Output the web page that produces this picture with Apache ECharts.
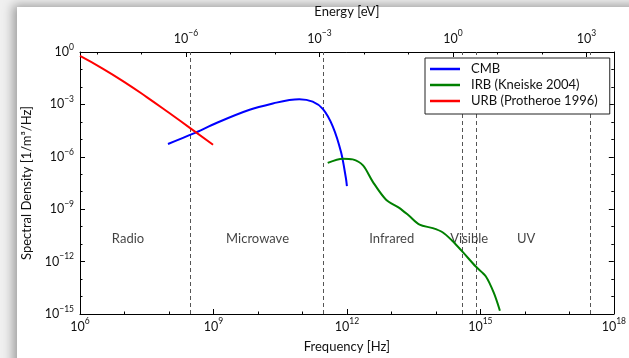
<!DOCTYPE html>
<html><head><meta charset="utf-8">
<script src="https://cdn.jsdelivr.net/npm/echarts@6/dist/echarts.min.js"></script>
<style>
html,body{margin:0;padding:0;width:629px;height:358px;overflow:hidden;background:#f0f0f0;}
#card{position:absolute;left:17px;top:7px;width:700px;height:420px;background:#fff;box-shadow:-4px -2px 10px rgba(0,0,0,0.35);}
#chart{position:absolute;left:0;top:0;width:629px;height:358px;}
</style></head><body>
<div id="card"></div><div id="chart"></div>
<script>
// ---- data ----
const H_EV = 4.135667696e-15;          // Planck constant in eV*s (frequency -> energy)
const freqMin = 1e6, freqMax = 1e18;
const densMin = 1e-15, densMax = 1;
const freqMinorExps = [7, 8, 10, 11, 13, 14, 16, 17];
const densMinorExps = [-1, -2, -4, -5, -7, -8, -10, -11, -13, -14];
const energyTickExps = [-6, -3, 0, 3];
const energyMinorExps = [-8, -7, -5, -4, -2, -1, 1, 2];

const cmbFreq = [9.5e7, 3.5e8, 1.2e9, 6.5e9, 2.6e10, 5.1e10, 8.5e10, 1.7e11, 2.9e11, 4.8e11, 7.4e11, 9.5e11, 1.0e12];
const cmbDens = [5.4e-6, 2.1e-5, 8.9e-5, 4.9e-4, 1.26e-3, 1.78e-3, 2.0e-3, 1.45e-3, 5.4e-4, 5.6e-5, 1.8e-6, 5.9e-8, 2.1e-8];

const irbFreq = [3.7e11, 8.1e11, 1.35e12, 2.3e12, 3.8e12, 7.6e12, 1.5e13, 2.5e13, 4.3e13, 8.5e13, 1.41e14, 2.3e14, 4.0e14, 7.9e14, 1.32e15, 2.0e15, 2.75e15];
const irbDens = [4.5e-7, 7.8e-7, 7.1e-7, 3.2e-7, 3.8e-8, 3.5e-9, 1.2e-9, 4.2e-10, 1.29e-10, 8.3e-11, 4.8e-11, 1.62e-11, 3.6e-12, 5.2e-13, 1.45e-13, 1.66e-14, 1.55e-15];

const urbFreq = [1e6, 3.16e6, 1e7, 3.16e7, 1e8, 3.16e8, 9.8e8];
const urbDens = [0.6, 0.117, 0.019, 2.63e-3, 3.3e-4, 3.98e-5, 4.9e-6];

const bandEdges = [3e8, 3e11, 3.9e14, 8.1e14, 3e17];
const bandNames = ['Radio', 'Microwave', 'Infrared', 'Visible', 'UV'];
const bandLabelFreq = [1.2e7, 9.8e9, 1.02e13, 5.6e14, 1.07e16];
const bandLabelDens = 1.9e-11;

const seriesNames = ['CMB', 'IRB (Kneiske 2004)', 'URB (Protheroe 1996)'];
const seriesColors = ['#0000ff', '#008000', '#ff0000'];

// ---- helpers ----
const FONT = 'Lato';
const TXT = '#111';
function expLabel(e) {
  const s = e < 0 ? '\u2212' + (-e) : String(e);
  return '{b|10}{s|' + s + '}';
}
const richTick = {
  b: { fontSize: 12.5, fontFamily: FONT, color: TXT, lineHeight: 19 },
  s: { fontSize: 8.5, fontFamily: FONT, color: TXT, lineHeight: 7, verticalAlign: 'top' }
};
const pairs = (xs, ys) => xs.map((x, i) => [x, ys[i]]);
const axisLineStyle = { color: '#000', width: 1 };
const nameStyle = { fontSize: 13, color: TXT, fontFamily: FONT };

const eMinExp = Math.log10(freqMin * H_EV), eMaxExp = Math.log10(freqMax * H_EV);

const chart = echarts.init(document.getElementById('chart'), null, { renderer: 'canvas' });
chart.setOption({
  animation: false,
  backgroundColor: 'transparent',
  textStyle: { fontFamily: FONT },
  grid: { left: 80, right: 14, top: 51, bottom: 39.5 },
  legend: {
    data: seriesNames,
    orient: 'vertical',
    left: 425, top: 58,
    padding: [4, 12, 6, 5],
    itemGap: 2,
    itemWidth: 30, itemHeight: 2.5,
    icon: 'rect',
    borderColor: '#222', borderWidth: 1,
    backgroundColor: '#fff',
    textStyle: { fontSize: 13, color: TXT, fontFamily: FONT, lineHeight: 14, padding: [0, 0, 0, 6] }
  },
  xAxis: [
    {
      type: 'log', logBase: 10, min: freqMin, max: freqMax, interval: 3, position: 'bottom',
      name: 'Frequency [Hz]', nameLocation: 'middle', nameGap: 26,
      nameTextStyle: nameStyle,
      axisLine: { show: true, onZero: false, lineStyle: axisLineStyle },
      axisTick: { show: true, inside: true, length: 5, lineStyle: axisLineStyle },
      minorTick: { show: false },
      splitLine: { show: false },
      axisLabel: { margin: 3, formatter: v => expLabel(Math.round(Math.log10(v))), rich: richTick }
    },
    {
      type: 'value', min: 6, max: 18, position: 'bottom',
      axisLine: { show: false, onZero: false },
      axisTick: { show: true, inside: true, length: 2.5, lineStyle: axisLineStyle, customValues: freqMinorExps },
      axisLabel: { show: false },
      splitLine: { show: false }
    },
    {
      type: 'value', min: eMinExp, max: eMaxExp, position: 'top',
      name: 'Energy [eV]', nameLocation: 'middle', nameGap: 34,
      nameTextStyle: nameStyle,
      axisLine: { show: true, onZero: false, lineStyle: axisLineStyle },
      axisTick: { show: true, inside: true, length: 5, lineStyle: axisLineStyle, customValues: energyTickExps },
      axisLabel: { show: true, margin: 4, customValues: energyTickExps, formatter: v => expLabel(Math.round(v)), rich: richTick },
      splitLine: { show: false }
    },
    {
      type: 'value', min: eMinExp, max: eMaxExp, position: 'top',
      axisLine: { show: false, onZero: false },
      axisTick: { show: true, inside: true, length: 2.5, lineStyle: axisLineStyle, customValues: energyMinorExps },
      axisLabel: { show: false },
      splitLine: { show: false }
    }
  ],
  yAxis: [
    {
      type: 'log', logBase: 10, min: densMin, max: densMax, interval: 3, position: 'left',
      name: 'Spectral Density [1/m\u00b3/Hz]', nameLocation: 'middle', nameGap: 47,
      nameTextStyle: nameStyle,
      axisLine: { show: true, onZero: false, lineStyle: axisLineStyle },
      axisTick: { show: true, inside: true, length: 5, lineStyle: axisLineStyle },
      splitLine: { show: false },
      axisLabel: { margin: 6, formatter: v => expLabel(Math.round(Math.log10(v))), rich: richTick }
    },
    {
      type: 'log', logBase: 10, min: densMin, max: densMax, interval: 3, position: 'right',
      axisLine: { show: true, onZero: false, lineStyle: axisLineStyle },
      axisTick: { show: true, inside: true, length: 5, lineStyle: axisLineStyle },
      splitLine: { show: false },
      axisLabel: { show: false }
    },
    {
      type: 'value', min: -15, max: 0, position: 'left',
      axisLine: { show: false, onZero: false },
      axisTick: { show: true, inside: true, length: 2.5, lineStyle: axisLineStyle, customValues: densMinorExps },
      axisLabel: { show: false },
      splitLine: { show: false }
    },
    {
      type: 'value', min: -15, max: 0, position: 'right',
      axisLine: { show: false, onZero: false },
      axisTick: { show: true, inside: true, length: 2.5, lineStyle: axisLineStyle, customValues: densMinorExps },
      axisLabel: { show: false },
      splitLine: { show: false }
    }
  ],
  series: [
    {
      name: 'bands', type: 'scatter', xAxisIndex: 0, yAxisIndex: 0, silent: true,
      symbolSize: 0, z: 1,
      data: bandNames.map((n, i) => ({ name: n, value: [bandLabelFreq[i], bandLabelDens] })),
      label: { show: true, position: 'inside', formatter: p => p.name, fontSize: 13, color: TXT, fontFamily: FONT },
      markLine: {
        silent: true, symbol: ['none', 'none'], z: 1,
        label: { show: false },
        lineStyle: { color: '#555', width: 1, type: [4, 3] },
        data: bandEdges.map(f => ({ xAxis: f }))
      }
    },
    {
      name: seriesNames[0], type: 'line', xAxisIndex: 0, yAxisIndex: 0, showSymbol: false, smooth: 0.3, z: 3,
      data: pairs(cmbFreq, cmbDens), lineStyle: { color: seriesColors[0], width: 2 }, itemStyle: { color: seriesColors[0] }
    },
    {
      name: seriesNames[1], type: 'line', xAxisIndex: 0, yAxisIndex: 0, showSymbol: false, smooth: 0.3, z: 3,
      data: pairs(irbFreq, irbDens), lineStyle: { color: seriesColors[1], width: 2 }, itemStyle: { color: seriesColors[1] }
    },
    {
      name: seriesNames[2], type: 'line', xAxisIndex: 0, yAxisIndex: 0, showSymbol: false, smooth: 0.5, z: 3,
      data: pairs(urbFreq, urbDens), lineStyle: { color: seriesColors[2], width: 2 }, itemStyle: { color: seriesColors[2] }
    }
  ]
});
</script>
</body></html>
